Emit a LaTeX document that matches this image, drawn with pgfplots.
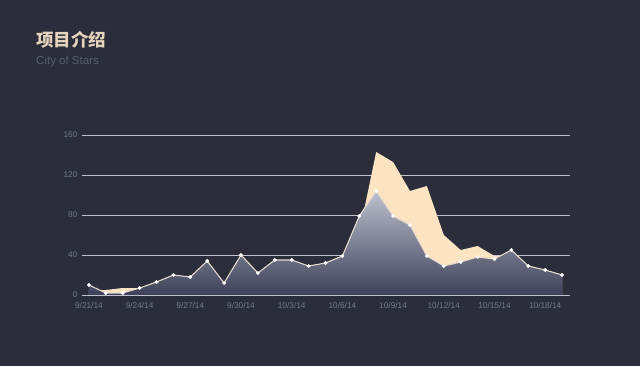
\documentclass[border=0pt]{standalone}
\usepackage{pgfplots}
\pgfplotsset{compat=1.18}
\usepackage{fontspec}
\setmainfont{Liberation Sans}
\newfontfamily\cjk{Noto Sans CJK SC}
\definecolor{bgc}{HTML}{2B2D3A}
\definecolor{cream}{HTML}{FCE4C2}
\definecolor{toparea}{HTML}{BCC0CE}
\definecolor{botarea}{HTML}{3E4159}
\definecolor{linec}{HTML}{E6DACD}
\definecolor{gridc}{HTML}{BFC1CB}
\definecolor{tickc}{HTML}{777A8B}
\definecolor{titlec}{HTML}{E6D3BC}
\definecolor{subc}{HTML}{5A5D6E}
\begin{document}
\begin{tikzpicture}[x=1bp,y=1bp]
\fill[bgc] (0,0) rectangle (640,366);
\useasboundingbox (0,0) rectangle (640,366);
\node[anchor=west, inner sep=0pt, text=titlec, font=\cjk\bfseries\fontsize{17.5bp}{20bp}\selectfont] at (36,326) {项目介绍};
\node[anchor=west, inner sep=0pt, text=subc, font=\fontsize{11.5bp}{13bp}\selectfont] at (36,304) {City of Stars};
\begin{axis}[
  at={(82bp,71bp)}, anchor=south west,
  scale only axis, width=488bp, height=160bp,
  xmin=-0.41, xmax=28.47, ymin=0, ymax=160,
  axis line style={draw=none},
  axis x line*=bottom,
  xtick={0,3,...,27},
  xticklabels={9/21/14,9/24/14,9/27/14,9/30/14,10/3/14,10/6/14,10/9/14,10/12/14,10/15/14,10/18/14},
  ytick={0,40,80,120,160},
  ymajorgrids, grid style={gridc, line width=0.8bp},
  major tick length=0pt,
  tick label style={text=tickc, font=\fontsize{8.3bp}{9bp}\selectfont},
  xticklabel style={yshift=-3.5bp},
  yticklabel style={xshift=-1bp},
  /pgf/number format/assume math mode=true,
  clip=false,
]
\addplot[draw=none, fill=cream] coordinates {
(0,5)(1,5)(2,7)(3,7)(4,10)(5,16)(6,14)(7,27)(8,10)(9,32)(10,18)(11,28)(12,28)(13,23)(14,26)(15,31)(16,62)(17,143)(18,133)(19,104)(20,109)(21,60)(22,45)(23,49)(24,39)(25,38)(26,28)(27,23)(28,18)
} \closedcycle;
\addplot[draw=none, top color=toparea, bottom color=botarea] coordinates {
(0,10)(1,2)(2,2)(3,7)(4,13)(5,20)(6,18)(7,34)(8,12)(9,40)(10,22)(11,35)(12,35)(13,29)(14,32)(15,39)(16,79)(17,104)(18,79)(19,70)(20,39)(21,29)(22,33)(23,38)(24,36)(25,45)(26,29)(27,25)(28,20)
} \closedcycle;
\addplot[linec, line width=1.1bp, mark=*, mark size=1.3bp, mark options={fill=white, draw=white}] coordinates {
(0,10)(1,2)(2,2)(3,7)(4,13)(5,20)(6,18)(7,34)(8,12)(9,40)(10,22)(11,35)(12,35)(13,29)(14,32)(15,39)(16,79)(17,104)(18,79)(19,70)(20,39)(21,29)(22,33)(23,38)(24,36)(25,45)(26,29)(27,25)(28,20)
};
\draw[gridc, line width=0.8bp] (axis cs:-0.41,0) -- (axis cs:28.47,0);
\end{axis}
\end{tikzpicture}
\end{document}
